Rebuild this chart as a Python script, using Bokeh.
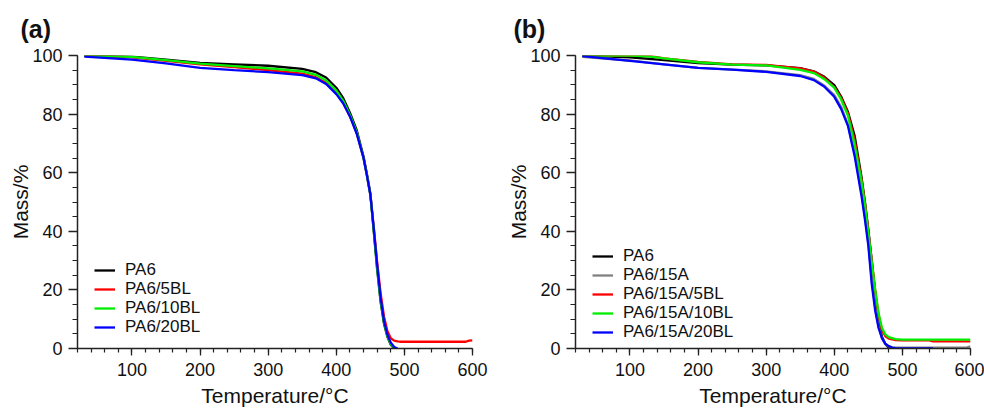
from bokeh.plotting import figure
from bokeh.models import Range1d, SingleIntervalTicker, Legend, LegendItem
from bokeh.layouts import row
from bokeh.embed import file_html
from bokeh.resources import INLINE

# ---------------- data: panel (a) ----------------
a_names = ["PA6", "PA6/5BL", "PA6/10BL", "PA6/20BL"]
a_colors = ["#000000", "#ff0000", "#00ee00", "#0000ff"]

a_pa6_T = [30, 100, 150, 200, 250, 300, 350, 370, 385, 400, 410, 420, 430, 440, 445, 450, 455, 460, 465, 470, 475, 480, 485]
a_pa6_M = [100, 99.6, 98.6, 97.5, 97.0, 96.5, 95.4, 94.3, 92.5, 89.0, 85.5, 80.5, 74.5, 65.5, 59.5, 53.0, 40.0, 27.0, 16.0, 8.5, 4.0, 1.3, 0]

a_5bl_T = [30, 100, 150, 200, 250, 300, 350, 370, 385, 400, 410, 420, 430, 440, 445, 450, 455, 460, 465, 470, 475, 480, 485, 490, 495, 550, 590, 595, 600]
a_5bl_M = [100, 99.4, 98.2, 97.0, 96.0, 95.0, 93.8, 92.6, 90.8, 87.3, 84.0, 79.3, 73.5, 65.0, 59.0, 52.5, 41.5, 29.5, 19.0, 11.0, 6.0, 3.5, 2.7, 2.4, 2.3, 2.3, 2.3, 2.7, 2.8]

a_10bl_T = [30, 100, 150, 200, 250, 300, 350, 370, 385, 400, 410, 420, 430, 440, 445, 450, 455, 460, 465, 470, 475, 480, 485, 488]
a_10bl_M = [100, 99.5, 98.4, 97.2, 96.4, 95.6, 94.6, 93.4, 91.5, 88.0, 84.6, 79.8, 73.8, 65.0, 59.0, 52.5, 40.5, 27.5, 16.5, 9.0, 4.3, 1.5, 0.3, 0]

a_20bl_T = [30, 100, 150, 200, 250, 300, 350, 370, 385, 400, 410, 420, 430, 440, 445, 450, 455, 460, 465, 470, 475, 480, 485, 490]
a_20bl_M = [99.6, 98.6, 97.3, 95.8, 95.0, 94.3, 93.3, 92.2, 90.3, 86.8, 83.7, 79.2, 73.3, 65.0, 59.0, 52.5, 41.0, 28.5, 17.5, 9.5, 4.8, 2.0, 0.5, 0]

# ---------------- data: panel (b) ----------------
b_names = ["PA6", "PA6/15A", "PA6/15A/5BL", "PA6/15A/10BL", "PA6/15A/20BL"]
b_colors = ["#000000", "#808080", "#ff0000", "#00ee00", "#0000ff"]

b_pa6_T = [30, 100, 150, 200, 250, 300, 350, 370, 385, 400, 410, 420, 430, 440, 445, 450, 455, 460, 465, 470, 475, 480, 485]
b_pa6_M = [100, 99.4, 98.4, 97.4, 96.9, 96.6, 95.7, 94.6, 92.8, 89.9, 86.0, 80.8, 72.5, 58.5, 50.0, 40.5, 30.0, 19.0, 9.5, 4.0, 1.5, 0.3, 0]

b_15a_T = [30, 100, 150, 200, 250, 300, 350, 370, 385, 400, 410, 420, 430, 440, 445, 450, 455, 460, 465, 470, 475, 480, 485, 490, 500, 550, 595, 600]
b_15a_M = [99.5, 98.3, 97.0, 95.8, 95.2, 94.6, 93.3, 92.0, 89.8, 86.5, 82.5, 76.5, 66.5, 53.0, 45.0, 36.0, 23.5, 14.0, 7.5, 3.5, 1.5, 0.7, 0.4, 0.3, 0.3, 0.3, 0.4, 0.7]

b_5bl_T = [30, 100, 130, 150, 200, 250, 300, 350, 370, 385, 400, 410, 420, 430, 440, 445, 450, 455, 460, 465, 470, 475, 480, 490, 500, 540, 545, 600]
b_5bl_M = [100, 100, 99.8, 99.0, 97.8, 97.0, 96.8, 95.6, 94.5, 92.5, 89.2, 85.5, 80.3, 71.0, 57.5, 49.5, 40.0, 30.0, 20.0, 11.5, 6.3, 4.2, 3.4, 2.9, 2.8, 2.8, 2.4, 2.4]

b_10bl_T = [30, 100, 130, 150, 200, 250, 300, 350, 370, 385, 400, 410, 420, 430, 440, 445, 450, 455, 460, 465, 470, 475, 480, 490, 500, 550, 600]
b_10bl_M = [100, 100, 99.6, 99.0, 97.7, 96.9, 96.6, 95.1, 94.0, 92.0, 89.0, 85.0, 79.5, 69.5, 57.0, 49.0, 39.5, 29.5, 20.0, 12.0, 7.0, 4.8, 3.9, 3.2, 3.0, 3.0, 3.0]

b_20bl_T = [30, 100, 150, 200, 250, 300, 350, 370, 385, 400, 410, 420, 430, 440, 445, 450, 455, 460, 465, 470, 475, 480, 485, 490, 500, 545]
b_20bl_M = [99.8, 98.2, 97.0, 95.8, 95.2, 94.4, 93.0, 91.6, 89.4, 85.9, 81.8, 76.0, 65.5, 52.0, 44.0, 35.0, 22.0, 13.0, 7.0, 3.5, 1.6, 0.8, 0.3, 0.1, 0, 0]

x_title = "Temperature/°C"
y_title = "Mass/%"
panel_tags = ["(a)", "(b)"]

FONT = "Liberation Sans"


def make_panel(tag, series, names, colors, width, border_left, border_right,
               legend_x, legend_rows_y, tag_offset):
    p = figure(width=width, height=411, output_backend="svg", toolbar_location=None,
               x_range=Range1d(20, 600), y_range=Range1d(0, 100),
               min_border_left=border_left, min_border_right=border_right,
               min_border_top=53, min_border_bottom=63)
    p.outline_line_color = None
    p.grid.visible = False
    p.background_fill_color = "white"
    p.border_fill_color = "white"

    p.title.text = tag
    p.title.text_font = FONT
    p.title.text_font_size = "25px"
    p.title.text_font_style = "bold"
    p.title.text_color = "#111111"
    p.title.align = "left"
    p.title.offset = tag_offset
    p.title.standoff = 25

    # one single-entry legend per row, so the row pitch matches the original
    for (T, M), name, col, ly in zip(series, names, colors, legend_rows_y):
        r = p.line(T, M, line_color=col, line_width=2.3)
        lg = Legend(items=[LegendItem(label=name, renderers=[r])], location=(legend_x, ly),
                    background_fill_alpha=0, border_line_color=None,
                    padding=0, margin=0, spacing=0,
                    glyph_width=21, glyph_height=18, label_height=18,
                    label_standoff=10,
                    label_text_font=FONT, label_text_font_size="17px",
                    label_text_color="#111111")
        p.add_layout(lg, "center")

    p.xaxis.ticker = SingleIntervalTicker(interval=100, num_minor_ticks=5)
    p.yaxis.ticker = SingleIntervalTicker(interval=20, num_minor_ticks=4)
    for ax in (p.xaxis[0], p.yaxis[0]):
        ax.axis_line_color = "#222222"
        ax.axis_line_width = 1.5
        ax.major_tick_line_color = "#222222"
        ax.minor_tick_line_color = "#222222"
        ax.major_tick_line_width = 1.3
        ax.minor_tick_line_width = 1.2
        ax.major_tick_in = 0
        ax.minor_tick_in = 0
        ax.major_label_text_font = FONT
        ax.major_label_text_font_size = "18px"
        ax.major_label_text_color = "#111111"
        ax.axis_label_text_font = FONT
        ax.axis_label_text_font_size = "21px"
        ax.axis_label_text_font_style = "normal"
        ax.axis_label_text_color = "#111111"
    p.xaxis.major_tick_out = 7
    p.xaxis.minor_tick_out = 4
    p.yaxis.major_tick_out = 9
    p.yaxis.minor_tick_out = 5
    p.xaxis.major_label_standoff = 7
    p.yaxis.major_label_standoff = 6
    p.xaxis.axis_label = x_title
    p.yaxis.axis_label = y_title
    p.xaxis.axis_label_standoff = 5
    p.yaxis.axis_label_standoff = -3
    return p


pa = make_panel(panel_tags[0],
                [(a_pa6_T, a_pa6_M), (a_5bl_T, a_5bl_M), (a_10bl_T, a_10bl_M), (a_20bl_T, a_20bl_M)],
                a_names, a_colors, 492, 77, 20, 17, [68, 49, 30, 11], -57)
pb = make_panel(panel_tags[1],
                [(b_pa6_T, b_pa6_M), (b_15a_T, b_15a_M), (b_5bl_T, b_5bl_M), (b_10bl_T, b_10bl_M), (b_20bl_T, b_20bl_M)],
                b_names, b_colors, 492, 83, 14, 17, [82, 63, 44, 25, 6], -62)

layout = row(pa, pb, spacing=0)
open("out.html", "w").write(file_html(layout, INLINE))
